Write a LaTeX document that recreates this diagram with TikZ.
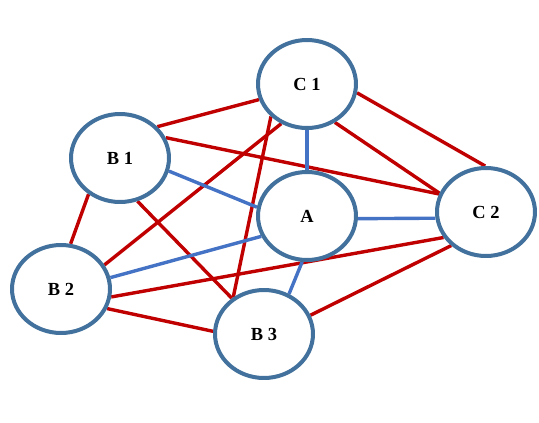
\documentclass[tikz,border=0pt]{standalone}
\usepackage{fontspec}
\setmainfont{Liberation Serif}
\usetikzlibrary{shapes.geometric, backgrounds}
\definecolor{nodeBlue}{HTML}{41719C}
\definecolor{linkBlue}{HTML}{4472C4}
\definecolor{linkRed}{HTML}{C00000}

\begin{document}
\begin{tikzpicture}[
  x=0.02cm, y=-0.02cm,
  every node/.style={font=\fontsize{10.5}{12}\selectfont\bfseries},
  vertex/.style={ellipse, draw=nodeBlue, fill=white, line width=0.08cm,
                 minimum width=1.96cm, minimum height=1.76cm, inner sep=0pt},
  redlink/.style={draw=linkRed, line width=0.068cm},
  bluelink/.style={draw=linkBlue, line width=0.068cm},
]
\useasboundingbox (0,0) rectangle (539,423);

% Nodes
\node[vertex] (C1) at (307,84)  {C 1};
\node[vertex] (B1) at (120,158) {B 1};
\node[vertex] (A)  at (307,216) {A};
\node[vertex] (C2) at (486,212) {C 2};
\node[vertex] (B2) at (61,289)  {B 2};
\node[vertex] (B3) at (264,334) {B 3};

\begin{scope}[on background layer]
% Red links
\draw[redlink] (B1.40)  -- (C1.198);
\draw[redlink] (C1.-10) -- (C2.91);
\draw[redlink] (C1.-54) -- (C2.158);
\draw[redlink] (B1.24)  -- (C2.159);
\draw[redlink] (C1.237) -- (B2.29);
\draw[redlink] (C1.222) -- (B3.130);
\draw[redlink] (B1.229) -- (B2.78);
\draw[redlink] (B1.292) -- (B3.132);
\draw[redlink] (B2.-23) -- (B3.177);
\draw[redlink] (B2.-9)  -- (C2.211);
\draw[redlink] (B3.22)  -- (C2.224);

% Blue links
\draw[bluelink] (C1.270) -- (A.90);
\draw[bluelink] (B1.-15) -- (A.170);
\draw[bluelink] (A.-3)   -- (C2.187);
\draw[bluelink] (B2.13)  -- (A.204);
\draw[bluelink] (A.264)  -- (B3.58);
\end{scope}
\end{tikzpicture}
\end{document}
